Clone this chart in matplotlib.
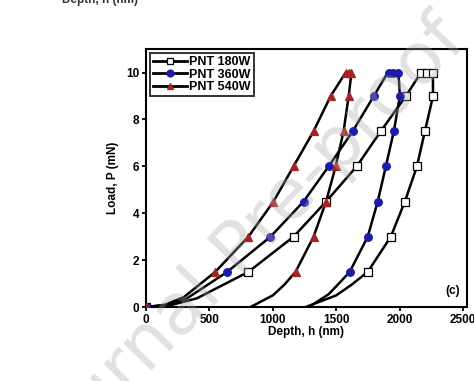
import matplotlib
matplotlib.use("Agg")
import matplotlib.pyplot as plt
from matplotlib.lines import Line2D

# Line (curve) points
h180_line = [0, 200, 400, 807, 1163, 1420, 1661, 1851, 2049, 2168, 2215, 2262, 2263, 2199, 2136, 2041, 1930, 1748, 1620, 1500, 1258]
p180_line = [0, 0.09, 0.37, 1.5, 3.0, 4.5, 6.0, 7.5, 9.0, 10.0, 10.0, 10.0, 9.0, 7.5, 6.0, 4.5, 3.0, 1.5, 0.95, 0.5, 0]
h360_line = [0, 160, 320, 640, 981, 1242, 1440, 1630, 1796, 1895, 1915, 1950, 1990, 2002, 1954, 1891, 1827, 1748, 1606, 1520, 1440, 1285]
p360_line = [0, 0.09, 0.36, 1.5, 3.0, 4.5, 6.0, 7.5, 9.0, 9.9, 10.0, 10.0, 10.0, 9.0, 7.5, 6.0, 4.5, 3.0, 1.5, 1.0, 0.55, 0]
h540_line = [0, 150, 300, 546, 807, 1005, 1163, 1321, 1456, 1574, 1597, 1620, 1598, 1558, 1495, 1420, 1321, 1179, 1090, 1000, 823]
p540_line = [0, 0.1, 0.43, 1.5, 3.0, 4.5, 6.0, 7.5, 9.0, 10.0, 10.0, 10.0, 9.0, 7.5, 6.0, 4.5, 3.0, 1.5, 0.95, 0.5, 0]

# Marker points
h180_mk = [0, 807, 1163, 1420, 1661, 1851, 2049, 2168, 2215, 2262, 2263, 2199, 2136, 2041, 1930, 1748]
p180_mk = [0, 1.5, 3.0, 4.5, 6.0, 7.5, 9.0, 10.0, 10.0, 10.0, 9.0, 7.5, 6.0, 4.5, 3.0, 1.5]
h360_mk = [0, 640, 981, 1242, 1440, 1630, 1796, 1915, 1950, 1990, 2002, 1954, 1891, 1827, 1748, 1606]
p360_mk = [0, 1.5, 3.0, 4.5, 6.0, 7.5, 9.0, 10.0, 10.0, 10.0, 9.0, 7.5, 6.0, 4.5, 3.0, 1.5]
h540_mk = [0, 546, 807, 1005, 1163, 1321, 1456, 1574, 1597, 1620, 1598, 1558, 1495, 1420, 1321, 1179]
p540_mk = [0, 1.5, 3.0, 4.5, 6.0, 7.5, 9.0, 10.0, 10.0, 10.0, 9.0, 7.5, 6.0, 4.5, 3.0, 1.5]

labels = ["PNT 180W", "PNT 360W", "PNT 540W"]
xticks = [0, 500, 1000, 1500, 2000, 2500]
yticks = [0, 2, 4, 6, 8, 10]

plt.rcParams['font.family'] = ['Liberation Sans', 'DejaVu Sans']

fig = plt.figure(figsize=(4.74, 3.81), dpi=100)
ax = fig.add_axes([0.308, 0.194, 0.677, 0.677])

series = [
    (h180_line, p180_line, h180_mk, p180_mk, 's', 'white', 'black'),
    (h360_line, p360_line, h360_mk, p360_mk, 'o', '#1c1ca8', '#1c1ca8'),
    (h540_line, p540_line, h540_mk, p540_mk, '^', '#a42424', '#a42424'),
]
handles = []
for (hl, pl, hm, pm, mk, fc, ec), lab in zip(series, labels):
    ax.plot(hl, pl, color='black', lw=1.8, zorder=2)
    ax.plot(hm, pm, linestyle='none', marker=mk, markersize=5.5, markerfacecolor=fc,
            markeredgecolor=ec, markeredgewidth=0.9, zorder=3)
    handles.append(Line2D([], [], color='black', lw=2.0, marker=mk, markersize=5,
                          markerfacecolor=fc, markeredgecolor=ec,
                          markeredgewidth=0.9, label=lab))

leg = ax.legend(handles=handles, loc='upper left', frameon=True, fancybox=False,
                edgecolor='black', borderpad=0.25, labelspacing=0.05, handlelength=2.7,
                handletextpad=0.2, borderaxespad=0.3, prop={'weight': 'bold', 'size': 9})
leg.get_frame().set_linewidth(1.4)

ax.set_xlim(0, 2530)
ax.set_ylim(0, 11)
ax.set_xticks(xticks)
ax.set_yticks(yticks)
ax.tick_params(direction='out', length=3, width=1.3, labelsize=8.5, pad=2)
for lab in ax.get_xticklabels() + ax.get_yticklabels():
    lab.set_fontweight('bold')
for s in ax.spines.values():
    s.set_linewidth(1.5)
ax.set_xlabel("Depth, h (nm)", fontsize=8.5, fontweight='bold', labelpad=0)
ax.set_ylabel("Load, P (mN)", fontsize=8.5, fontweight='bold', labelpad=5)
ax.text(0.978, 0.04, "(c)", transform=ax.transAxes, ha='right', va='bottom',
        fontsize=8.5, fontweight='bold')

# Partial label from the panel above, cut at the top edge
fig.text(0.212, 1.0, "Depth, h (nm)", ha='center', va='center', fontsize=8.5,
         fontweight='bold', color='#333333')

# Watermark
fig.text(0.52, 0.35, "Journal Pre-proof", rotation=46, ha='center', va='center',
         rotation_mode='anchor', fontsize=52, color='#a8a8a8', alpha=0.35,
         fontfamily='DejaVu Sans', zorder=10)

fig.savefig("out.png", dpi=100)
